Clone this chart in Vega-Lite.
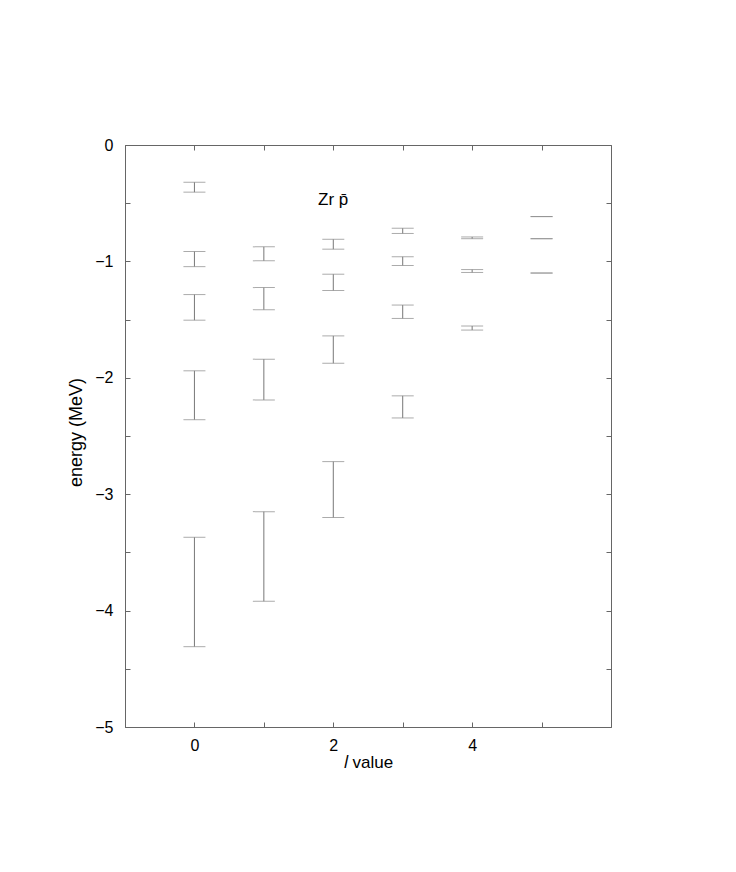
{
  "$schema": "https://vega.github.io/schema/vega-lite/v6.json",
  "autosize": {"type": "none"},
  "width": 486,
  "height": 582,
  "padding": {"left": 125, "top": 145, "right": 125, "bottom": 145},
  "background": "white",
  "config": {
    "view": {"stroke": "#666", "strokeWidth": 1},
    "font": "Liberation Sans",
    "axis": {
      "grid": false,
      "domainColor": "#666",
      "tickColor": "#666",
      "tickSize": -5,
      "labelFont": "Liberation Sans",
      "titleFont": "Liberation Sans",
      "labelFontSize": 16,
      "titleFontSize": 17,
      "labelColor": "black",
      "titleColor": "black",
      "titleFontWeight": "normal"
    }
  },
  "datasets": {
    "bars": [
      {"l": 0, "hi": -0.32, "lo": -0.405},
      {"l": 0, "hi": -0.915, "lo": -1.045},
      {"l": 0, "hi": -1.285, "lo": -1.505},
      {"l": 0, "hi": -1.94, "lo": -2.36},
      {"l": 0, "hi": -3.37, "lo": -4.31},
      {"l": 1, "hi": -0.875, "lo": -0.995},
      {"l": 1, "hi": -1.225, "lo": -1.415},
      {"l": 1, "hi": -1.84, "lo": -2.19},
      {"l": 1, "hi": -3.15, "lo": -3.92},
      {"l": 2, "hi": -0.81, "lo": -0.895},
      {"l": 2, "hi": -1.11, "lo": -1.25},
      {"l": 2, "hi": -1.64, "lo": -1.875},
      {"l": 2, "hi": -2.72, "lo": -3.2},
      {"l": 3, "hi": -0.715, "lo": -0.76},
      {"l": 3, "hi": -0.96, "lo": -1.035},
      {"l": 3, "hi": -1.375, "lo": -1.49},
      {"l": 3, "hi": -2.155, "lo": -2.345},
      {"l": 4, "hi": -0.79, "lo": -0.805},
      {"l": 4, "hi": -1.07, "lo": -1.095},
      {"l": 4, "hi": -1.555, "lo": -1.59},
      {"l": 5, "hi": -0.615, "lo": -0.615},
      {"l": 5, "hi": -0.805, "lo": -0.805},
      {"l": 5, "hi": -1.1, "lo": -1.1}
    ],
    "label": [{"l": 1.78, "e": -0.47, "txt": "Zr p̄"}]
  },
  "resolve": {"axis": {"x": "independent", "y": "independent"}},
  "layer": [
    {
      "data": {"name": "bars"},
      "mark": {"type": "rule", "color": "#777", "strokeWidth": 1},
      "encoding": {
        "x": {
          "field": "l", "type": "quantitative",
          "scale": {"domain": [-1, 6], "nice": false, "zero": false},
          "axis": {
            "orient": "bottom",
            "title": "𝑙 value",
            "format": "d",
            "values": [0, 1, 2, 3, 4, 5],
            "labelExpr": "datum.value % 2 === 0 ? datum.label : ''",
            "labelPadding": 15,
            "titlePadding": 1
          }
        },
        "y": {
          "field": "hi", "type": "quantitative",
          "scale": {"domain": [-5, 0], "nice": false, "zero": false},
          "axis": {
            "orient": "left",
            "title": "energy (MeV)",
            "titleFontSize": 18,
            "titleY": 287,
            "format": "~g",
            "values": [-5, -4.5, -4, -3.5, -3, -2.5, -2, -1.5, -1, -0.5, 0],
            "labelExpr": "datum.value % 1 === 0 ? datum.label : ''",
            "labelPadding": 17,
            "titlePadding": 9
          }
        },
        "y2": {"field": "lo"}
      }
    },
    {
      "data": {"name": "bars"},
      "mark": {"type": "tick", "color": "#888", "orient": "horizontal", "size": 22, "thickness": 1},
      "encoding": {
        "x": {
          "field": "l", "type": "quantitative",
          "axis": {"orient": "top", "title": null, "values": [0, 1, 2, 3, 4, 5], "labels": false}
        },
        "y": {
          "field": "hi", "type": "quantitative",
          "axis": {"orient": "right", "title": null, "values": [-4.5, -4, -3.5, -3, -2.5, -2, -1.5, -1, -0.5], "labels": false}
        }
      }
    },
    {
      "data": {"name": "bars"},
      "mark": {"type": "tick", "color": "#888", "orient": "horizontal", "size": 22, "thickness": 1},
      "encoding": {
        "x": {"field": "l", "type": "quantitative", "axis": null},
        "y": {"field": "lo", "type": "quantitative", "axis": null}
      }
    },
    {
      "data": {"name": "label"},
      "mark": {"type": "text", "align": "left", "baseline": "middle", "fontSize": 17, "font": "Liberation Sans", "color": "black"},
      "encoding": {
        "x": {"field": "l", "type": "quantitative", "axis": null},
        "y": {"field": "e", "type": "quantitative", "axis": null},
        "text": {"field": "txt"}
      }
    }
  ]
}
